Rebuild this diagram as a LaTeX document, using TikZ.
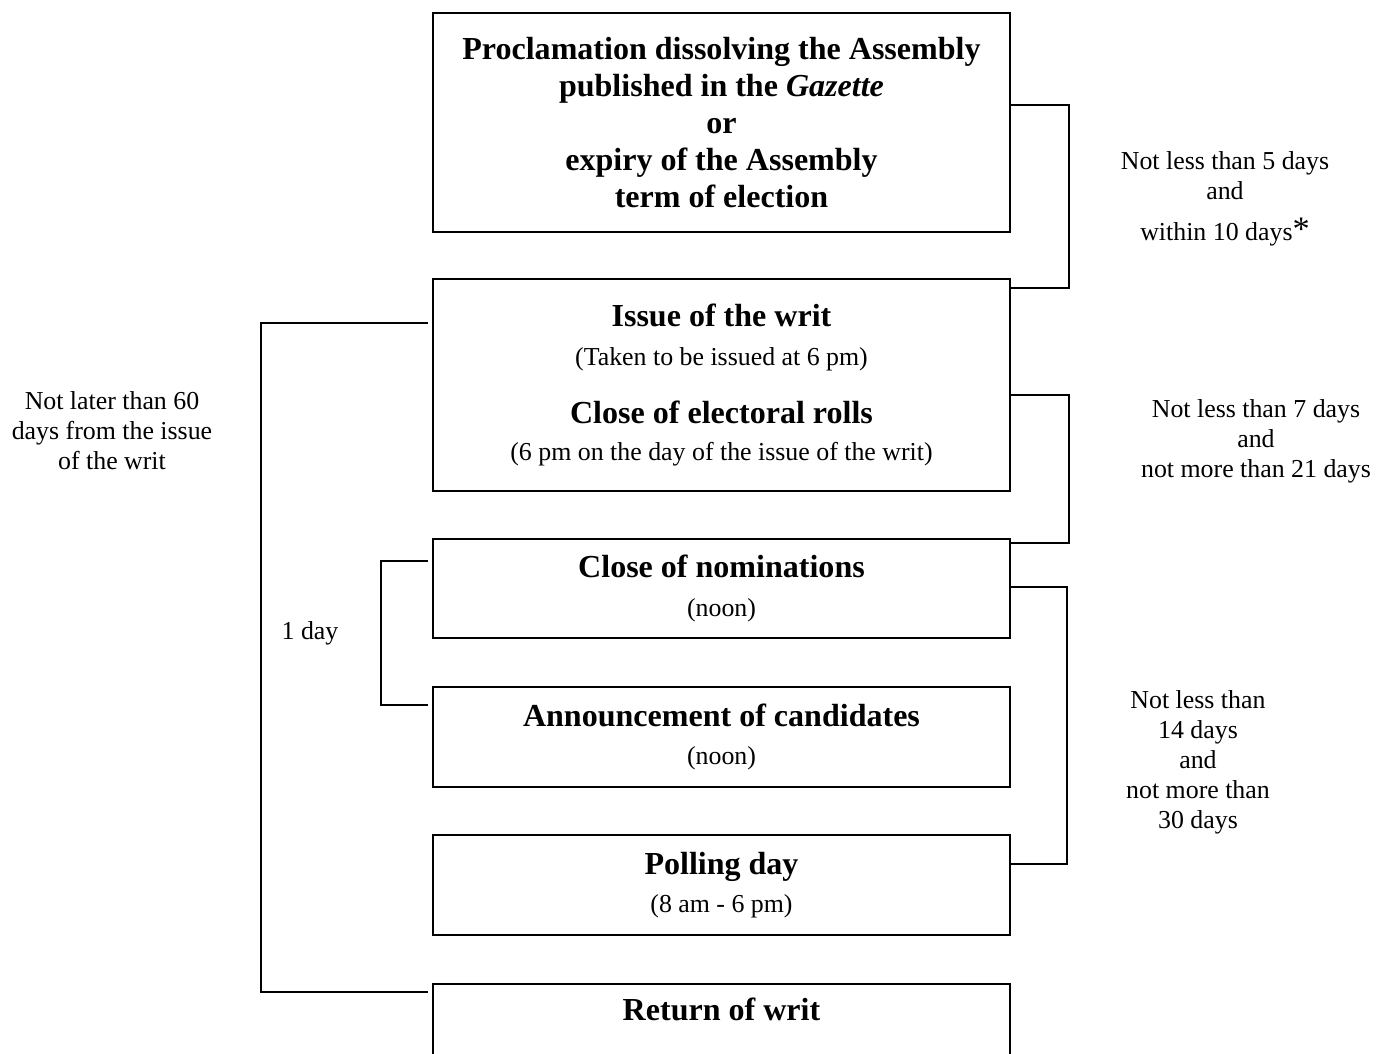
\documentclass[tikz,border=0pt]{standalone}
\usepackage{fontspec}
\setmainfont{Liberation Serif}
\tikzset{
    stage/.style={draw, line width=0.9pt, minimum width=252.1pt, inner sep=0pt, align=center, font=\fontsize{11.3}{16.8}\selectfont},
    link/.style={line width=0.75pt},
    gap/.style={align=center, font=\fontsize{11.3}{13.1}\selectfont},
}
\newcommand{\hd}[1]{{\fontsize{14}{16}\selectfont\bfseries #1}}

\begin{document}
\begin{tikzpicture}[x=0.437pt, y=-0.437pt]
    \clip (0,0) rectangle (1390,1054);

    % stages
    \node[stage, minimum height=219*0.437pt, font=\fontsize{14}{16.2}\selectfont\bfseries] (proc) at (721.5,122.5)
        {Proclamation dissolving the Assembly\\published in the \textit{Gazette}\\or\\expiry of the Assembly\\term of election};
    \node[stage, minimum height=212*0.437pt] (issue) at (721.5,385)
        {\hd{Issue of the writ}\\(Taken to be issued at 6 pm)\\[8.5pt]\hd{Close of electoral rolls}\\[-0.5pt](6 pm on the day of the issue of the writ)};
    \node[stage, minimum height=99*0.437pt] (nom) at (721.5,588.5) {\hd{Close of nominations}\\(noon)};
    \node[stage, minimum height=100*0.437pt] (cand) at (721.5,737) {\hd{Announcement of candidates}\\(noon)};
    \node[stage, minimum height=100*0.437pt] (poll) at (721.5,885) {\hd{Polling day}\\(8 am - 6 pm)};
    \node[stage, minimum height=100*0.437pt] (ret) at (721.5,1034) {\hd{Return of writ}\\\strut};

    % periods
    \node[gap] (t1) at (1225,199) {Not less than 5 days\\and\\[5pt]within 10 days{\fontsize{15}{15}\selectfont *}};
    \node[gap] (t2) at (1256,441) {Not less than 7 days\\and\\not more than 21 days};
    \node[gap] (t3) at (1198,762) {Not less than\\14 days\\and\\not more than\\30 days};
    \node[gap] (t4) at (112,431) {Not later than 60\\days from the issue\\of the writ};
    \node[gap] (t5) at (310,633) {1 day};

    % brackets
    \coordinate (a1) at (1069,105);
    \coordinate (a2) at (1069,288);
    \draw[link] (proc.east |- a1) -- (a1) -- (a2) -- (issue.east |- a2);
    \coordinate (b1) at (1069,395);
    \coordinate (b2) at (1069,543);
    \draw[link] (issue.east |- b1) -- (b1) -- (b2) -- (nom.east |- b2);
    \coordinate (c1) at (1067,587);
    \coordinate (c2) at (1067,864);
    \draw[link] (nom.east |- c1) -- (c1) -- (c2) -- (poll.east |- c2);
    \coordinate (d1) at (381,561);
    \coordinate (d2) at (381,705);
    \draw[link, shorten <=1.8pt, shorten >=1.8pt] (nom.west |- d1) -- (d1) -- (d2) -- (cand.west |- d2);
    \coordinate (e1) at (261,323);
    \coordinate (e2) at (261,992);
    \draw[link, shorten <=1.8pt, shorten >=1.8pt] (issue.west |- e1) -- (e1) -- (e2) -- (ret.west |- e2);
\end{tikzpicture}
\end{document}
